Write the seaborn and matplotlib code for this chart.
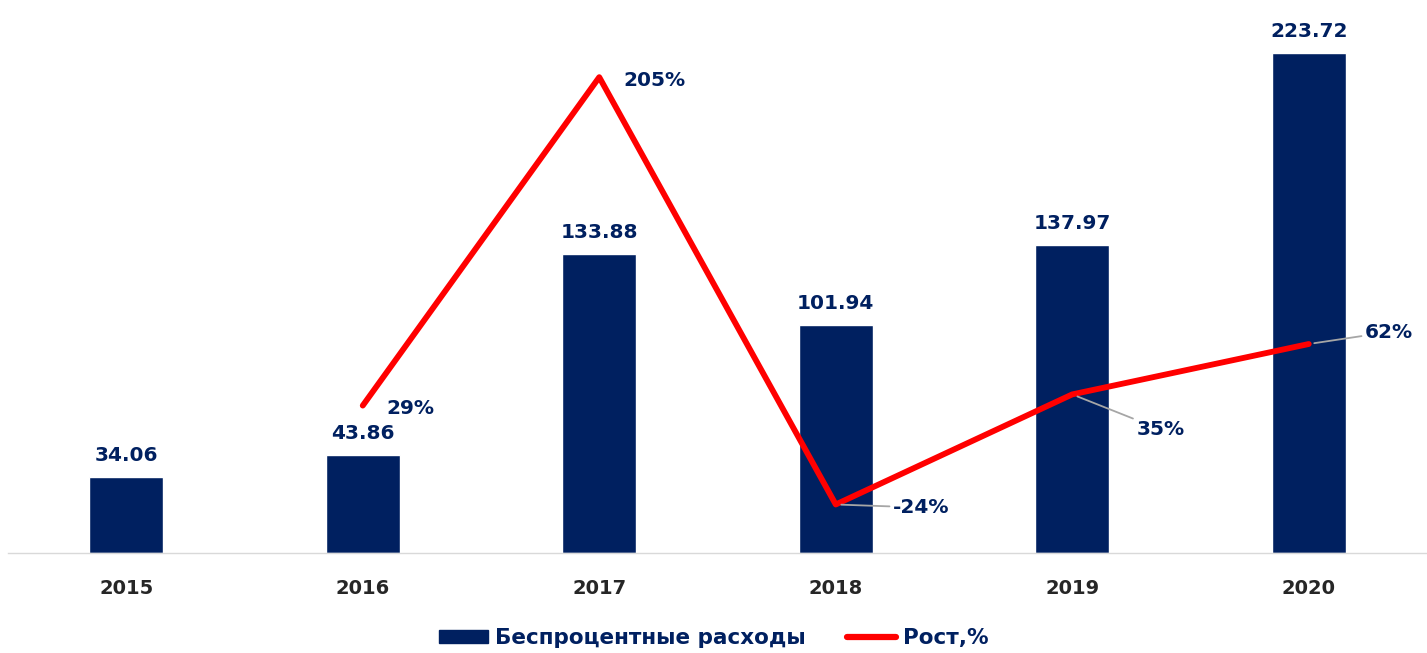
import numpy as np
import pandas as pd
import matplotlib
matplotlib.use("Agg")
import matplotlib.pyplot as plt
from matplotlib.patches import Patch
from matplotlib.lines import Line2D
import seaborn as sns

# ----------------------------
# Данные
# ----------------------------
years = ["2015", "2016", "2017", "2018", "2019", "2020"]
expenses = [34.06, 43.86, 133.88, 101.94, 137.97, 223.72]
growth = [np.nan, 29, 205, -24, 35, 62]

# смещения подписей роста (пиксели) и нужна ли выноска
label_offsets = [None, (24, -3), (24, -3), (57, -3), (64, -35), (56, 12)]
leaders = [False, False, False, True, True, True]

NAVY = "#002060"
RED = "#FF0000"
GREY = "#A6A6A6"

sns.set_theme(style="white")
plt.rcParams["font.family"] = ["DejaVu Sans"]

df = pd.DataFrame({"year": years, "expenses": expenses, "growth": growth})

fig = plt.figure(figsize=(14.27, 6.53), dpi=100)
ax = fig.add_axes([8 / 1427, 100 / 653, 1 - 8 / 1427, 543 / 653])

sns.barplot(data=df, x="year", y="expenses", order=years, color=NAVY,
            width=0.315, saturation=1, ax=ax)
ax.set_xlim(-0.5, 5.47)
ax.set_ylim(0, 243)

for i, v in enumerate(expenses):
    ax.annotate(f"{v:.2f}", xy=(i, v), xytext=(0, 12), textcoords="offset pixels",
                ha="center", va="bottom", fontsize=14.5, fontweight="bold", color=NAVY)

ax.set_xlabel("")
ax.set_ylabel("")
ax.set_yticks([])
ax.tick_params(axis="x", length=0, pad=19, labelsize=14, labelcolor="#262626")
for lab in ax.get_xticklabels():
    lab.set_fontweight("bold")
for s in ["top", "left", "right"]:
    ax.spines[s].set_visible(False)
ax.spines["bottom"].set_color("#D9D9D9")
ax.spines["bottom"].set_linewidth(1)

# ----------------------------
# Рост, %
# ----------------------------
ax2 = ax.twinx()
sns.pointplot(data=df, x="year", y="growth", order=years, color=RED,
              marker="", linestyle="-", linewidth=4.2, errorbar=None, ax=ax2)
ax2.set_ylim(-50, 241)
ax2.set_yticks([])
ax2.set_ylabel("")
ax2.set_xlabel("")
for s in ["top", "left", "right", "bottom"]:
    ax2.spines[s].set_visible(False)

for i, g in enumerate(growth):
    if np.isnan(g):
        continue
    props = None
    if leaders[i]:
        props = dict(arrowstyle="-", color=GREY, lw=1.3, shrinkA=0, shrinkB=4)
    ax2.annotate(f"{g:.0f}%", xy=(i, g), xytext=label_offsets[i],
                 textcoords="offset pixels", ha="left", va="center",
                 fontsize=14.5, fontweight="bold", color=NAVY, arrowprops=props)

# ----------------------------
# Легенда
# ----------------------------
handles = [Patch(facecolor=NAVY, edgecolor=NAVY),
           Line2D([0], [0], color=RED, lw=4.5)]
fig.legend(handles, ["Беспроцентные расходы", "Рост,%"], loc="center",
           bbox_to_anchor=(0.5, 1 - 638 / 653), ncol=2, frameon=False,
           prop={"weight": "bold", "size": 15.5}, labelcolor=NAVY,
           handlelength=2.3, handleheight=0.6, handletextpad=0.3, columnspacing=1.9)

fig.savefig("out.png", dpi=100)
